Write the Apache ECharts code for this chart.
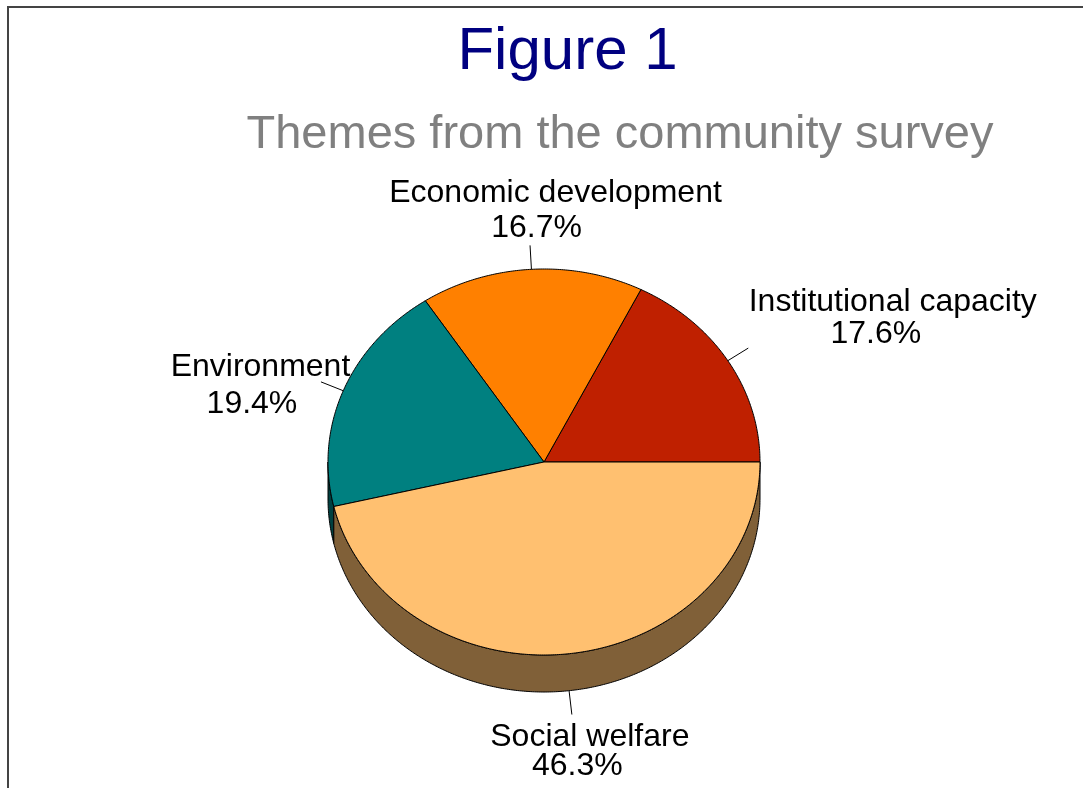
<!DOCTYPE html>
<html><head><meta charset="utf-8">
<script src="https://cdn.jsdelivr.net/npm/echarts@6/dist/echarts.min.js"></script>
<style>html,body{margin:0;padding:0;background:#fff}#c{width:1083px;height:788px}</style>
</head><body><div id="c"></div>
<script>
// ---- data ----
const categories = ['Institutional capacity', 'Economic development', 'Environment', 'Social welfare'];
const counts = [19, 18, 21, 50];
const titleText = 'Figure 1';
const subtitleText = 'Themes from the community survey';

// ---- styles / layout ----
const topColors = ['#BF2000', '#FF8000', '#008080', '#FFC070'];
const sideColors = ['#601000', '#804000', '#004040', '#806038'];
const FONT = '"Liberation Sans", Arial, sans-serif';
const PIE = { cx: 544, cy: 462, rx: 216, ry: 193, depth: 37, leader: 24 };
// label offsets relative to leader end: [dx line1, baseline line1, dx line2, baseline line2]
const LABEL_LAYOUT = [
  [144.5, -36, 127.5, -4],
  [25.5, -42, 6.5, -7],
  [-60.5, -5, -69, 32],
  [18, 33, 5.5, 62]
];
const LABEL_SIZE = 32;

const total = counts.reduce((a, b) => a + b, 0);
const startDeg = [], endDeg = [];
let acc = 0;
counts.forEach(v => { startDeg.push(acc / total * 360); acc += v; endDeg.push(acc / total * 360); });
const pctText = counts.map(v => (v / total * 100).toFixed(1) + '%');

function pt(tDeg, extra, dy) {
  const t = tDeg * Math.PI / 180;
  extra = extra || 0; dy = dy || 0;
  return [PIE.cx + (PIE.rx + extra) * Math.cos(t), PIE.cy - (PIE.ry + extra) * Math.sin(t) + dy];
}
function arc(a0, a1, dy) {
  const pts = [];
  const step = 0.5;
  if (a1 >= a0) { for (let t = a0; t < a1; t += step) pts.push(pt(t, 0, dy)); }
  else { for (let t = a0; t > a1; t -= step) pts.push(pt(t, 0, dy)); }
  pts.push(pt(a1, 0, dy));
  return pts;
}
function baseY(size) { return size * 0.31; }

function renderSide(params, api) {
  const i = params.dataIndex;
  const a = Math.max(startDeg[i], 180), b = Math.min(endDeg[i], 360);
  if (b <= a) return { type: 'group', children: [] };
  const upper = arc(a, b, 0);
  const lower = arc(b, a, PIE.depth);
  return {
    type: 'polygon',
    shape: { points: upper.concat(lower) },
    style: { fill: sideColors[i], stroke: '#000', lineWidth: 1 }
  };
}

function renderTop(params, api) {
  const i = params.dataIndex;
  const a0 = startDeg[i], a1 = endDeg[i];
  const pts = [[PIE.cx, PIE.cy]].concat(arc(a0, a1, 0));
  const mid = (a0 + a1) / 2;
  const lowerHalf = Math.sin(mid * Math.PI / 180) < 0;
  const dy = lowerHalf ? PIE.depth : 0;
  const p1 = pt(mid, 0, dy);
  const p2 = pt(mid, PIE.leader, dy);
  const L = LABEL_LAYOUT[i];
  return {
    type: 'group',
    children: [
      { type: 'polygon', shape: { points: pts }, style: { fill: topColors[i], stroke: '#000', lineWidth: 1 } },
      { type: 'line', shape: { x1: p1[0], y1: p1[1], x2: p2[0], y2: p2[1] }, style: { stroke: '#000', lineWidth: 1 } },
      { type: 'text', x: p2[0] + L[0], y: p2[1] + L[1] - baseY(LABEL_SIZE),
        style: { text: categories[i], fill: '#000', font: LABEL_SIZE + 'px ' + FONT, align: 'center', verticalAlign: 'middle' } },
      { type: 'text', x: p2[0] + L[2], y: p2[1] + L[3] - baseY(LABEL_SIZE),
        style: { text: pctText[i], fill: '#000', font: LABEL_SIZE + 'px ' + FONT, align: 'center', verticalAlign: 'middle' } }
    ]
  };
}

const chart = echarts.init(document.getElementById('c'), null, { renderer: 'canvas' });
const seriesData = categories.map((c, i) => ({ name: c, value: counts[i] }));
chart.setOption({
  animation: false,
  backgroundColor: '#fff',
  graphic: [
    { type: 'rect', shape: { x: 8, y: 7, width: 3000, height: 3000 }, style: { fill: 'none', stroke: '#444', lineWidth: 2 }, z: 0 },
    { type: 'text', x: 567.5, y: 71 - baseY(60), style: { text: titleText, fill: '#000080', font: '60px ' + FONT, align: 'center', verticalAlign: 'middle' } },
    { type: 'text', x: 620, y: 150 - baseY(47), style: { text: subtitleText, fill: '#808080', font: '47px ' + FONT, align: 'center', verticalAlign: 'middle' } }
  ],
  series: [
    { type: 'custom', coordinateSystem: 'none', renderItem: renderSide, data: seriesData, z: 2, silent: true },
    { type: 'custom', coordinateSystem: 'none', renderItem: renderTop, data: seriesData, z: 3, silent: true }
  ]
});
</script></body></html>
